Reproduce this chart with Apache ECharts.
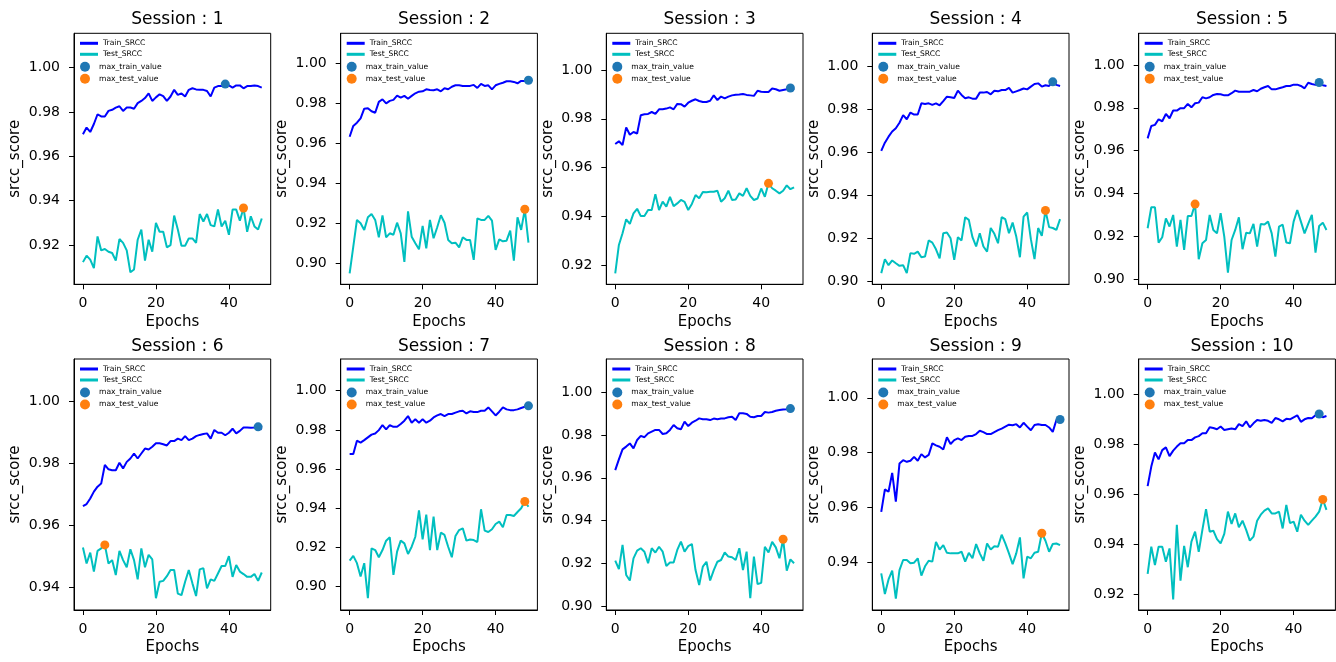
<!DOCTYPE html>
<html>
<head>
<meta charset="utf-8">
<title>SRCC per session</title>
<script src="https://cdn.jsdelivr.net/npm/echarts@6/dist/echarts.min.js"></script>
<style>
  html, body { margin: 0; padding: 0; background: #fff; }
  #chart { width: 1336px; height: 662px; }
</style>
</head>
<body>
<div id="chart"></div>
<script>
// ---- data: SRCC score per epoch (0..49) for each training session ----
const train01 = [0.970,0.973,0.971,0.9746,0.979,0.978,0.978,0.9805,0.981,0.982,0.9826,0.9805,0.982,0.982,0.9815,0.984,0.985,0.9863,0.9884,0.985,0.9866,0.988,0.9872,0.985,0.987,0.990,0.9877,0.9884,0.987,0.990,0.9907,0.9902,0.990,0.990,0.9895,0.987,0.991,0.9917,0.9917,0.9926,0.992,0.991,0.992,0.992,0.9907,0.9917,0.9917,0.992,0.9917,0.991];
const test01  = [0.9123,0.9152,0.9134,0.9096,0.9239,0.9176,0.9182,0.917,0.9164,0.913,0.9227,0.921,0.9176,0.9077,0.909,0.9224,0.927,0.913,0.9224,0.917,0.930,0.926,0.926,0.919,0.920,0.9333,0.927,0.9197,0.9197,0.923,0.923,0.921,0.934,0.9306,0.934,0.929,0.9284,0.936,0.9284,0.931,0.9246,0.936,0.936,0.931,0.9367,0.926,0.933,0.9284,0.927,0.932];

const train02 = [0.9633,0.9687,0.9703,0.9725,0.9773,0.9775,0.976,0.9753,0.9807,0.982,0.980,0.9812,0.9817,0.9838,0.9828,0.9837,0.9823,0.9837,0.985,0.9858,0.986,0.987,0.9867,0.9865,0.987,0.986,0.9875,0.987,0.9883,0.989,0.989,0.9887,0.9887,0.9887,0.9892,0.9877,0.9897,0.9887,0.989,0.987,0.989,0.9897,0.9903,0.991,0.991,0.9907,0.990,0.9912,0.9912,0.9915];
const test02  = [0.895,0.9083,0.9217,0.920,0.9167,0.923,0.9247,0.9217,0.913,0.924,0.913,0.915,0.9143,0.9203,0.915,0.9007,0.926,0.9133,0.910,0.907,0.9187,0.9075,0.9217,0.9125,0.918,0.924,0.9203,0.9117,0.910,0.9103,0.908,0.913,0.9117,0.9117,0.9017,0.9225,0.9217,0.9217,0.9237,0.9213,0.9067,0.912,0.911,0.9113,0.9163,0.9013,0.923,0.9167,0.927,0.9103];

const train03 = [0.9697,0.9708,0.9693,0.9765,0.9735,0.9746,0.974,0.9815,0.9819,0.982,0.9828,0.982,0.9839,0.9839,0.9842,0.9847,0.9839,0.9861,0.986,0.985,0.9866,0.9874,0.988,0.9873,0.9869,0.9869,0.9874,0.9896,0.9877,0.9891,0.9884,0.9891,0.9896,0.9899,0.990,0.9902,0.9898,0.9896,0.9894,0.9915,0.9911,0.991,0.991,0.9924,0.9921,0.9915,0.9918,0.9921,0.9926,0.9918];
const test03  = [0.9168,0.9284,0.9332,0.9389,0.937,0.9413,0.9432,0.9402,0.9402,0.9427,0.9427,0.9492,0.9427,0.9461,0.9441,0.9481,0.9443,0.9454,0.9468,0.946,0.9427,0.9452,0.9488,0.9475,0.9501,0.950,0.9502,0.9502,0.9506,0.9461,0.9475,0.9506,0.9468,0.947,0.9495,0.9485,0.9516,0.9485,0.9468,0.9474,0.9515,0.9481,0.9536,0.9516,0.9506,0.9495,0.9506,0.9528,0.9512,0.952];

const train04 = [0.9605,0.9643,0.9671,0.9695,0.971,0.9736,0.9771,0.9752,0.9783,0.9774,0.9774,0.9826,0.9823,0.9826,0.9819,0.9826,0.9817,0.9836,0.9857,0.9854,0.9851,0.9885,0.9865,0.985,0.9854,0.9848,0.9848,0.9876,0.9876,0.9879,0.9868,0.9885,0.9882,0.9888,0.9888,0.9898,0.9876,0.9882,0.9888,0.9895,0.9891,0.9904,0.9916,0.9919,0.9904,0.991,0.9907,0.9926,0.9912,0.9907];
const test04  = [0.9036,0.9101,0.9073,0.9095,0.9082,0.907,0.9073,0.9036,0.9129,0.9126,0.9136,0.911,0.9113,0.9188,0.9178,0.9147,0.9105,0.9222,0.9225,0.9198,0.9098,0.9203,0.9188,0.9296,0.9284,0.9203,0.916,0.9222,0.916,0.9136,0.9246,0.9219,0.9175,0.9296,0.9287,0.9222,0.9271,0.9206,0.911,0.9299,0.9318,0.9194,0.9101,0.9246,0.9209,0.9328,0.925,0.9246,0.9237,0.9287];

const train05 = [0.9657,0.9715,0.972,0.9746,0.9737,0.9771,0.9751,0.9787,0.9787,0.9798,0.9798,0.9818,0.9802,0.9821,0.9824,0.9849,0.9844,0.9849,0.986,0.9864,0.9863,0.9858,0.9858,0.9868,0.988,0.9875,0.9875,0.9875,0.9875,0.9883,0.9877,0.9889,0.9896,0.9902,0.9886,0.9886,0.9891,0.9896,0.9902,0.9902,0.9908,0.9908,0.9902,0.9891,0.9917,0.9911,0.9907,0.9918,0.9905,0.9902];
const test05  = [0.9237,0.9335,0.9335,0.917,0.9195,0.9283,0.9245,0.9299,0.9151,0.9276,0.9136,0.9294,0.9294,0.935,0.9092,0.9167,0.9182,0.9299,0.9229,0.9213,0.9307,0.9198,0.903,0.9182,0.9229,0.9288,0.9139,0.9216,0.9213,0.9257,0.9151,0.9257,0.9254,0.9268,0.9213,0.9104,0.9245,0.9254,0.917,0.9167,0.9268,0.9322,0.9268,0.9213,0.9257,0.9299,0.9123,0.9248,0.9263,0.9229];

const train06 = [0.9662,0.9669,0.9687,0.9709,0.9725,0.9735,0.9795,0.9781,0.9778,0.9778,0.9802,0.9784,0.9805,0.9816,0.9832,0.9816,0.9832,0.9848,0.9845,0.9854,0.9865,0.9865,0.9862,0.9858,0.9872,0.9872,0.988,0.9875,0.9888,0.9875,0.988,0.9888,0.9892,0.9895,0.9897,0.988,0.9908,0.9899,0.9899,0.9891,0.9899,0.9912,0.9897,0.9905,0.9916,0.9916,0.9915,0.9916,0.9918,0.991];
const test06  = [0.9529,0.9477,0.9512,0.9451,0.9518,0.9526,0.9537,0.9477,0.9488,0.944,0.9518,0.9488,0.9465,0.9523,0.9488,0.9426,0.9526,0.9465,0.9505,0.949,0.9365,0.9418,0.9421,0.9436,0.9456,0.9456,0.938,0.9375,0.9418,0.9456,0.9413,0.9372,0.9458,0.9462,0.9397,0.9426,0.9421,0.9445,0.9469,0.9469,0.9501,0.9434,0.9472,0.9451,0.9443,0.9434,0.9434,0.9443,0.9421,0.9448];

const train07 = [0.9677,0.9677,0.9745,0.9735,0.9748,0.9762,0.9776,0.9782,0.9799,0.9825,0.9803,0.9825,0.9816,0.9816,0.983,0.9847,0.9871,0.9837,0.9854,0.9837,0.9854,0.9837,0.9847,0.9864,0.9874,0.9881,0.9871,0.9881,0.9881,0.9888,0.9895,0.9898,0.9884,0.9895,0.9891,0.9891,0.9898,0.9898,0.9915,0.9895,0.9874,0.9893,0.9915,0.9905,0.9901,0.9901,0.9905,0.9912,0.9918,0.9923];
const test07  = [0.9133,0.9157,0.912,0.9052,0.912,0.8941,0.9196,0.9187,0.915,0.9187,0.9235,0.9252,0.906,0.9179,0.9235,0.9221,0.9167,0.9204,0.9255,0.939,0.9241,0.9368,0.9187,0.9357,0.9187,0.9276,0.9264,0.9204,0.915,0.9259,0.9289,0.9298,0.9235,0.9241,0.9238,0.9228,0.9395,0.9286,0.9279,0.9293,0.932,0.9332,0.9303,0.9366,0.9366,0.9361,0.9381,0.940,0.9435,0.9408];

const train08 = [0.9636,0.9686,0.9733,0.9746,0.9761,0.9738,0.9777,0.9796,0.979,0.9808,0.9816,0.9824,0.9824,0.9805,0.9808,0.9824,0.9847,0.9832,0.9827,0.9863,0.9842,0.9858,0.9867,0.9878,0.9874,0.9874,0.987,0.9877,0.9874,0.9877,0.9878,0.9883,0.9886,0.987,0.9902,0.9902,0.9899,0.9886,0.9883,0.9889,0.9889,0.9908,0.9905,0.9908,0.9914,0.9917,0.992,0.9921,0.9924,0.9922];
const test08  = [0.9212,0.9172,0.9286,0.9145,0.9119,0.9223,0.9259,0.927,0.9254,0.920,0.927,0.925,0.9277,0.9254,0.9187,0.9203,0.9203,0.9262,0.9301,0.9254,0.928,0.929,0.9168,0.9098,0.9184,0.9207,0.9119,0.9168,0.9207,0.9215,0.925,0.9231,0.9228,0.9215,0.927,0.9168,0.9254,0.9036,0.9231,0.9102,0.9108,0.9277,0.925,0.930,0.9274,0.9223,0.9312,0.9165,0.9218,0.920];

const train09 = [0.9585,0.9667,0.9658,0.9727,0.9622,0.9761,0.9773,0.9767,0.9771,0.9785,0.9771,0.9795,0.9783,0.9792,0.9834,0.9827,0.9822,0.9812,0.9856,0.9832,0.9846,0.9852,0.9846,0.9858,0.9861,0.9861,0.9868,0.988,0.9875,0.9868,0.9868,0.9875,0.9882,0.9888,0.9895,0.9902,0.990,0.9904,0.9892,0.9909,0.9895,0.9882,0.9901,0.9904,0.9901,0.9901,0.9892,0.9876,0.9919,0.9921];
const test09  = [0.9361,0.9286,0.9339,0.9371,0.9269,0.9373,0.941,0.941,0.9398,0.940,0.9416,0.9353,0.9387,0.9407,0.9404,0.9476,0.9448,0.9464,0.9436,0.9434,0.9434,0.9434,0.944,0.9404,0.9436,0.9416,0.9468,0.9434,0.9407,0.947,0.9448,0.946,0.9458,0.9502,0.947,0.9434,0.9395,0.9434,0.9492,0.9343,0.9422,0.9416,0.9436,0.944,0.9507,0.948,0.944,0.9468,0.947,0.9464];

const train10 = [0.9632,0.971,0.9766,0.9739,0.9776,0.9787,0.9752,0.9774,0.979,0.9803,0.9803,0.9816,0.9816,0.9827,0.9832,0.9843,0.9843,0.9867,0.9864,0.9859,0.987,0.9856,0.9859,0.9862,0.9859,0.988,0.9872,0.9891,0.9867,0.9883,0.9896,0.9893,0.9896,0.9893,0.9885,0.9904,0.9899,0.9891,0.9901,0.9899,0.9907,0.9915,0.9889,0.9899,0.9904,0.9903,0.9915,0.992,0.9907,0.9912];
const test10  = [0.9281,0.939,0.9317,0.939,0.939,0.933,0.9383,0.9179,0.9477,0.9254,0.9393,0.9308,0.941,0.945,0.9369,0.9457,0.954,0.945,0.9454,0.942,0.9403,0.9441,0.953,0.9481,0.9523,0.9468,0.9494,0.9457,0.9414,0.943,0.9494,0.9518,0.9534,0.9543,0.9523,0.9523,0.953,0.9463,0.9557,0.9484,0.949,0.945,0.9518,0.9494,0.9477,0.9494,0.951,0.953,0.9579,0.9537];

const trainRuns = [train01, train02, train03, train04, train05, train06, train07, train08, train09, train10];
const testRuns  = [test01, test02, test03, test04, test05, test06, test07, test08, test09, test10];

// y-axis ranges and tick labels per session
const yMin = [0.9023, 0.8895, 0.9123, 0.8984, 0.8975, 0.9327, 0.8881, 0.8981, 0.9228, 0.9137];
const yMax = [1.0155, 1.0150, 1.0150, 1.0152, 1.0148, 1.0137, 1.0162, 1.0156, 1.0141, 1.0140];
const yTicksA = [0.90, 0.92, 0.94, 0.96, 0.98, 1.00];
const yTicksB = [0.92, 0.94, 0.96, 0.98, 1.00];
const yTicksC = [0.94, 0.96, 0.98, 1.00];
const yTicks = [yTicksB, yTicksA, yTicksB, yTicksA, yTicksA, yTicksC, yTicksA, yTicksA, yTicksC, yTicksB];
const xTicks = [0, 20, 40];
const xRange = [-2.45, 51.45];

// ---- layout ----
const FONT = 'DejaVu Sans';
const colLeft = [74, 340.7, 606.3, 872.3, 1138.7];
const rowTop = [33.3, 359];
const titleTop = [6.5, 333];
const plotW = 196.7, plotH = 251;

const C_TRAIN = '#0000ff', C_TEST = '#00bfbf', C_MAXTRAIN = '#1f77b4', C_MAXTEST = '#ff7f0e';

const grids = [], xAxes = [], yAxes = [], series = [], titles = [], legends = [];

function argMax(arr) {
  let k = 0;
  for (let i = 1; i < arr.length; i++) if (arr[i] > arr[k]) k = i;
  return k;
}

for (let i = 0; i < 10; i++) {
  const r = Math.floor(i / 5), c = i % 5;
  const L = colLeft[c], T = rowTop[r];

  grids.push({ left: L, top: T, width: plotW, height: plotH, show: true,
    borderColor: '#000', borderWidth: 1, backgroundColor: 'transparent' });

  xAxes.push({
    gridIndex: i, type: 'value', min: xRange[0], max: xRange[1],
    axisLine: { show: true, onZero: false, lineStyle: { color: '#000', width: 1 } },
    axisTick: { show: true, length: 5, customValues: xTicks, lineStyle: { color: '#000' } },
    axisLabel: { customValues: xTicks, fontSize: 14, color: '#000', margin: 12, fontFamily: FONT },
    splitLine: { show: false },
    name: 'Epochs', nameLocation: 'middle', nameGap: 30,
    nameTextStyle: { fontSize: 15, color: '#000', fontFamily: FONT }
  });

  yAxes.push({
    gridIndex: i, type: 'value', min: yMin[i], max: yMax[i],
    axisLine: { show: true, onZero: false, lineStyle: { color: '#000', width: 1 } },
    axisTick: { show: true, length: 5, customValues: yTicks[i], lineStyle: { color: '#000' } },
    axisLabel: { customValues: yTicks[i], fontSize: 14, color: '#000', margin: 14, fontFamily: FONT,
      formatter: v => Number(v).toFixed(2) },
    splitLine: { show: false },
    name: 'srcc_score', nameLocation: 'middle', nameGap: 51, nameRotate: 90,
    nameTextStyle: { fontSize: 15, color: '#000', fontFamily: FONT }
  });

  const tr = trainRuns[i], te = testRuns[i];
  const kTr = argMax(tr), kTe = argMax(te);

  series.push({
    type: 'line', name: 'Train_SRCC', xAxisIndex: i, yAxisIndex: i,
    data: tr.map((v, k) => [k, v]), showSymbol: false, symbol: 'none',
    lineStyle: { color: C_TRAIN, width: 2 }, itemStyle: { color: C_TRAIN }, z: 2
  });
  series.push({
    type: 'line', name: 'Test_SRCC', xAxisIndex: i, yAxisIndex: i,
    data: te.map((v, k) => [k, v]), showSymbol: false, symbol: 'none',
    lineStyle: { color: C_TEST, width: 2 }, itemStyle: { color: C_TEST }, z: 2
  });
  series.push({
    type: 'scatter', name: 'max_train_value', xAxisIndex: i, yAxisIndex: i,
    data: [[kTr, tr[kTr]]], symbolSize: 9, itemStyle: { color: C_MAXTRAIN, opacity: 1 }, z: 3
  });
  series.push({
    type: 'scatter', name: 'max_test_value', xAxisIndex: i, yAxisIndex: i,
    data: [[kTe, te[kTe]]], symbolSize: 9, itemStyle: { color: C_MAXTEST, opacity: 1 }, z: 3
  });

  titles.push({
    text: 'Session : ' + (i + 1), left: L + plotW / 2, top: titleTop[r], textAlign: 'center',
    textStyle: { fontSize: 17, fontWeight: 'normal', color: '#000', fontFamily: FONT }
  });

  legends.push({
    left: L + 6, top: T + 5.5, orient: 'vertical', padding: 0, itemGap: 2,
    itemWidth: 18, itemHeight: 3, icon: 'rect', selectedMode: false,
    data: ['Train_SRCC', 'Test_SRCC'],
    textStyle: { fontSize: 7.6, color: '#000', lineHeight: 9, fontFamily: FONT }
  });
  legends.push({
    left: L + 6, top: T + 28.5, orient: 'vertical', padding: 0, itemGap: 2,
    itemWidth: 18, itemHeight: 10, icon: 'circle', selectedMode: false,
    data: ['max_train_value', 'max_test_value'],
    textStyle: { fontSize: 7.6, color: '#000', lineHeight: 9, fontFamily: FONT }
  });
}

const chart = echarts.init(document.getElementById('chart'), null, { renderer: 'canvas' });
chart.setOption({
  animation: false,
  backgroundColor: '#fff',
  textStyle: { fontFamily: FONT },
  title: titles,
  legend: legends,
  grid: grids,
  xAxis: xAxes,
  yAxis: yAxes,
  series: series
});
</script>
</body>
</html>
